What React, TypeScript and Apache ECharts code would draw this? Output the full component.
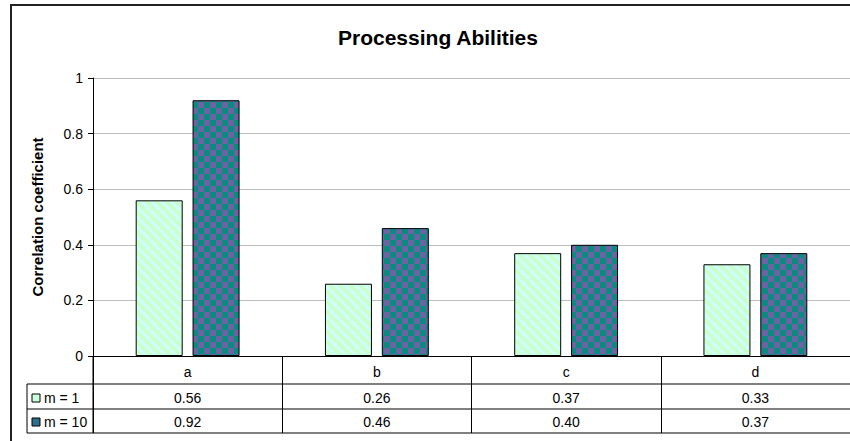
import React, { useEffect, useRef } from 'react';
import * as echarts from 'echarts';

const titleText = 'Processing Abilities';
const yAxisTitle = 'Correlation coefficient';
const categories = ['a', 'b', 'c', 'd'];
const seriesNames = ['m = 1', 'm = 10'];
const valuesM1 = [0.56, 0.26, 0.37, 0.33];
const valuesM10 = [0.92, 0.46, 0.4, 0.37];
const tableM1 = ['0.56', '0.26', '0.37', '0.33'];
const tableM10 = ['0.92', '0.46', '0.40', '0.37'];

const FONT = 'Liberation Sans, Arial, Helvetica, sans-serif';

function makeStripe(): HTMLCanvasElement {
  const s = 10;
  const c = document.createElement('canvas');
  c.width = s;
  c.height = s;
  const g = c.getContext('2d')!;
  g.fillStyle = '#ccffcc';
  g.fillRect(0, 0, s, s);
  g.strokeStyle = '#ccffff';
  g.lineWidth = 3;
  for (const o of [-s, 0, s]) {
    g.beginPath();
    g.moveTo(o, 0);
    g.lineTo(o + s, s);
    g.stroke();
  }
  return c;
}

function makeChecker(): HTMLCanvasElement {
  const s = 6;
  const c = document.createElement('canvas');
  c.width = s * 2;
  c.height = s * 2;
  const g = c.getContext('2d')!;
  g.fillStyle = '#0b8a82';
  g.fillRect(0, 0, s * 2, s * 2);
  g.fillStyle = '#6c63a3';
  g.fillRect(0, 0, s, s);
  g.fillRect(s, s, s, s);
  return c;
}

export default function App() {
  const ref = useRef<HTMLDivElement>(null);
  useEffect(() => {
    if (!ref.current) return;
    const chart = echarts.init(ref.current, undefined, { renderer: 'svg' });
    const stripe = { image: makeStripe(), repeat: 'repeat' } as any;
    const checker = { image: makeChecker(), repeat: 'repeat' } as any;
    chart.setOption({
      animation: false,
      backgroundColor: '#fff',
      title: {
        text: titleText,
        left: 338,
        top: 27,
        padding: 0,
        textStyle: { fontFamily: FONT, fontSize: 21, fontWeight: 'bold', color: '#000' },
      },
      grid: { left: 93, top: 78, width: 760, height: 278 },
      xAxis: {
        type: 'category',
        data: categories,
        axisLine: { lineStyle: { color: '#000', width: 1 } },
        axisTick: { show: true, length: 77, alignWithLabel: false, lineStyle: { color: '#000' } },
        axisLabel: { margin: 9, fontFamily: FONT, fontSize: 14, color: '#000' },
        splitLine: { show: false },
      },
      yAxis: {
        type: 'value',
        min: 0,
        max: 1,
        interval: 0.2,
        name: yAxisTitle,
        nameLocation: 'middle',
        nameRotate: 90,
        nameGap: 48,
        nameTextStyle: { fontFamily: FONT, fontSize: 15, fontWeight: 'bold', color: '#000' },
        axisLine: { show: true, lineStyle: { color: '#000' } },
        axisTick: { show: true, length: 5, lineStyle: { color: '#000' } },
        axisLabel: { margin: 10, fontFamily: FONT, fontSize: 14, color: '#000' },
        splitLine: { show: true, lineStyle: { color: '#bdbdbd', width: 1 } },
      },
      series: [
        {
          name: seriesNames[0],
          type: 'bar',
          data: valuesM1,
          barWidth: 47,
          barGap: '21%',
          itemStyle: { color: stripe, borderColor: '#000', borderWidth: 1 },
        },
        {
          name: seriesNames[1],
          type: 'bar',
          data: valuesM10,
          barWidth: 47,
          barGap: '21%',
          itemStyle: { color: checker, borderColor: '#000', borderWidth: 1 },
        },
      ],
    });

    const c0 = chart.convertToPixel({ xAxisIndex: 0 }, categories[0]) as number;
    const c1 = chart.convertToPixel({ xAxisIndex: 0 }, categories[1]) as number;
    const band = c1 - c0;
    const y0 = chart.convertToPixel({ yAxisIndex: 0 }, 0) as number;
    const xLeft = c0 - band / 2;
    const tableLeft = 27;
    const rowTops = [y0 + 28, y0 + 53, y0 + 77];
    const rowCenters = [y0 + 42, y0 + 66];
    const lineStyle = { stroke: '#000', lineWidth: 1 };
    const elements: any[] = [];
    elements.push({
      type: 'rect',
      shape: { x: 11, y: 5, width: 1000, height: 1000 },
      style: { fill: 'none', stroke: '#222', lineWidth: 2 },
      silent: true,
      z: 100,
    });
    rowTops.forEach((yy) => {
      elements.push({ type: 'line', shape: { x1: tableLeft, y1: yy, x2: 860, y2: yy }, style: lineStyle });
    });
    elements.push({ type: 'line', shape: { x1: tableLeft, y1: rowTops[0], x2: tableLeft, y2: rowTops[2] }, style: lineStyle });
    elements.push({ type: 'line', shape: { x1: xLeft, y1: y0, x2: xLeft, y2: rowTops[2] }, style: lineStyle });
    const rows = [tableM1, tableM10];
    const keyFills = ['#ccffdd', '#2e6f8c'];
    rows.forEach((row, r) => {
      elements.push({
        type: 'rect',
        shape: { x: 32, y: rowCenters[r] - 4, width: 8, height: 8 },
        style: { fill: keyFills[r], stroke: '#000', lineWidth: 1 },
      });
      elements.push({
        type: 'text',
        x: 44,
        y: rowCenters[r],
        style: { text: seriesNames[r], font: `14px ${FONT}`, fill: '#000', textAlign: 'left', textVerticalAlign: 'middle' },
      });
      row.forEach((v, i) => {
        const cx = chart.convertToPixel({ xAxisIndex: 0 }, categories[i]) as number;
        elements.push({
          type: 'text',
          x: cx,
          y: rowCenters[r],
          style: { text: v, font: `14px ${FONT}`, fill: '#000', textAlign: 'center', textVerticalAlign: 'middle' },
        });
      });
    });
    chart.setOption({ graphic: elements });
    return () => chart.dispose();
  }, []);
  return <div ref={ref} style={{ width: 850, height: 441, position: 'absolute', left: 0, top: 0 }} />;
}
